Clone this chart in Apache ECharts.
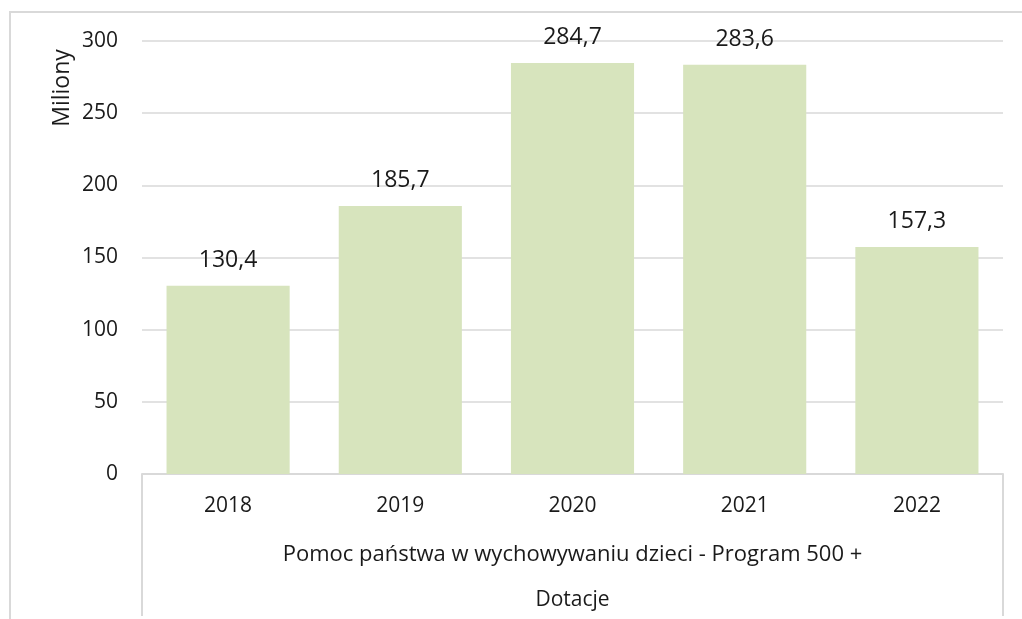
<!DOCTYPE html>
<html>
<head>
<meta charset="utf-8">
<script src="https://cdn.jsdelivr.net/npm/echarts@6/dist/echarts.min.js"></script>
<style>
  html, body { margin: 0; padding: 0; background: #fff; }
  #main { width: 1022px; height: 619px; }
</style>
</head>
<body>
<div id="main"></div>
<script>
// dane
var years = ["2018", "2019", "2020", "2021", "2022"];
var values = [130.4, 185.7, 284.7, 283.6, 157.3];
var groupLabel = ["Pomoc państwa w wychowywaniu dzieci - Program 500 +"];
var typeLabel = ["Dotacje"];
var yTicks = { min: 0, max: 300, interval: 50 };

var FONT = "Open Sans";
var chart = echarts.init(document.getElementById("main"));
chart.setOption({
  animation: false,
  textStyle: { fontFamily: FONT },
  grid: { left: 142, right: 19, top: 41, bottom: 145 },
  graphic: [
    {
      type: "rect",
      shape: { x: 10, y: 12, width: 1030, height: 640 },
      style: { fill: "none", stroke: "#d9d9d9", lineWidth: 2 },
      silent: true
    },
    {
      type: "text",
      x: 62, y: 88,
      rotation: Math.PI / 2,
      style: {
        text: "Miliony", fontFamily: FONT, fontSize: 23, fill: "#1a1a1a",
        align: "center", verticalAlign: "middle"
      }
    }
  ],
  xAxis: [
    {
      type: "category",
      data: years,
      axisLine: { show: true, lineStyle: { color: "#d9d9d9", width: 2 } },
      axisTick: { show: false },
      axisLabel: { margin: 22, fontSize: 21, color: "#1a1a1a" }
    },
    {
      type: "category",
      data: groupLabel,
      position: "bottom",
      axisLine: { show: false },
      axisTick: { show: true, length: 142, lineStyle: { color: "#d9d9d9", width: 2 } },
      axisLabel: { margin: 70, fontSize: 22, color: "#1a1a1a" }
    },
    {
      type: "category",
      data: typeLabel,
      position: "bottom",
      axisLine: { show: false },
      axisTick: { show: false },
      axisLabel: { margin: 116, fontSize: 21, color: "#1a1a1a" }
    }
  ],
  yAxis: {
    type: "value",
    min: yTicks.min,
    max: yTicks.max,
    interval: yTicks.interval,
    axisLine: { show: false },
    axisTick: { show: false },
    axisLabel: { margin: 24, fontSize: 21, color: "#1a1a1a" },
    splitLine: { lineStyle: { color: "#d9d9d9", width: 1.5 } }
  },
  series: [
    {
      type: "bar",
      data: values,
      barCategoryGap: "28.5%",
      itemStyle: { color: "#d7e4bd" },
      label: {
        show: true,
        position: "top",
        distance: 14,
        fontSize: 23,
        color: "#1a1a1a",
        formatter: function (p) { return p.value.toFixed(1).replace(".", ","); }
      }
    }
  ]
});
</script>
</body>
</html>
